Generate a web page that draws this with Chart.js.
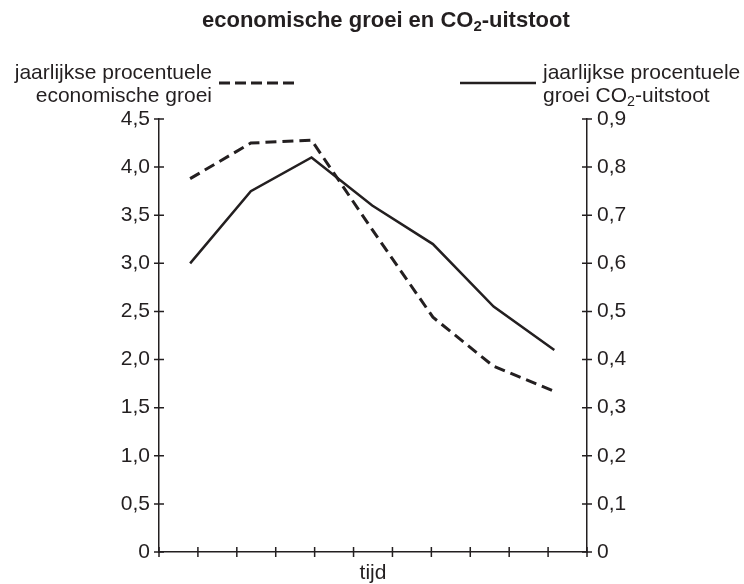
<!DOCTYPE html>
<html>
<head>
<meta charset="utf-8">
<script src="https://cdn.jsdelivr.net/npm/chart.js@4/dist/chart.umd.min.js"></script>
<style>
  html, body { margin: 0; padding: 0; background: #ffffff; }
  #wrap { position: relative; width: 744px; height: 584px; font-family: "Liberation Sans", Arial, sans-serif; color: #231f20; }
  #wrap canvas { position: absolute; left: 0; top: 0; }
  .title { position: absolute; left: 202px; top: 6px; white-space: nowrap; font-weight: bold; font-size: 22px; line-height: 28px; }
  .legtext { position: absolute; font-size: 21px; line-height: 23px; white-space: nowrap; }
  .sub { font-size: 0.68em; position: relative; top: 0.3em; line-height: 0; }
  .swatch { position: absolute; }
</style>
</head>
<body>
<div id="wrap">
  <canvas id="c" width="744" height="584"></canvas>
  <div class="title">economische groei en CO<span class="sub">2</span>-uitstoot</div>
  <div class="legtext" style="right:532px; top:60px; text-align:right;">jaarlijkse procentuele<br>economische groei</div>
  <svg class="swatch" style="left:219px; top:78px;" width="76" height="10"><line x1="0" y1="5" x2="76" y2="5" stroke="#231f20" stroke-width="3" stroke-dasharray="11,5"/></svg>
  <svg class="swatch" style="left:460px; top:78px;" width="76" height="10"><line x1="0" y1="5" x2="76" y2="5" stroke="#231f20" stroke-width="2.5"/></svg>
  <div class="legtext" style="left:543px; top:60px; text-align:left;">jaarlijkse procentuele<br>groei CO<span class="sub">2</span>-uitstoot</div>
</div>
<script>
// ---- data ----
const timePositions = [0.8, 2.36, 3.92, 5.48, 7.04, 8.6, 10.16];   // position along the time axis (tick units)
const economicGrowth = [3.88, 4.25, 4.28, 3.35, 2.44, 1.93, 1.67];  // left axis, %
const co2Growth = [0.60, 0.75, 0.82, 0.72, 0.64, 0.51, 0.42];       // right axis, %
const timeTickRange = [0, 11];       // 12 unlabeled tick marks on the time axis
const leftAxisRange = [0, 4.5, 0.5];
const rightAxisRange = [0, 0.9, 0.1];
const xAxisTitle = 'tijd';

const INK = '#231f20';
const FONT = '"Liberation Sans", Arial, sans-serif';

function fmt(v) {
  if (Math.abs(v) < 1e-9) return '0';
  return v.toFixed(1).replace('.', ',');
}

const crossTicks = {
  id: 'crossTicks',
  afterDatasetsDraw(chart) {
    const {ctx, chartArea, scales} = chart;
    const L = 5;
    ctx.save();
    ctx.strokeStyle = INK;
    ctx.lineWidth = 1.5;
    ctx.beginPath();
    scales.y.ticks.forEach(t => {
      const py = scales.y.getPixelForValue(t.value);
      ctx.moveTo(chartArea.left - L, py); ctx.lineTo(chartArea.left + L, py);
    });
    scales.y1.ticks.forEach(t => {
      const py = scales.y1.getPixelForValue(t.value);
      ctx.moveTo(chartArea.right - L, py); ctx.lineTo(chartArea.right + L, py);
    });
    scales.x.ticks.forEach(t => {
      const px = scales.x.getPixelForValue(t.value);
      ctx.moveTo(px, chartArea.bottom - L); ctx.lineTo(px, chartArea.bottom + L);
    });
    ctx.stroke();
    ctx.restore();
  }
};

new Chart(document.getElementById('c'), {
  type: 'line',
  data: {
    datasets: [
      {
        label: 'jaarlijkse procentuele economische groei',
        data: timePositions.map((x, i) => ({x, y: economicGrowth[i]})),
        yAxisID: 'y',
        borderColor: INK,
        borderWidth: 3,
        borderDash: [11, 6],
        pointRadius: 0,
        tension: 0,
        fill: false
      },
      {
        label: 'jaarlijkse procentuele groei CO2-uitstoot',
        data: timePositions.map((x, i) => ({x, y: co2Growth[i]})),
        yAxisID: 'y1',
        borderColor: INK,
        borderWidth: 2.5,
        pointRadius: 0,
        tension: 0,
        fill: false
      }
    ]
  },
  options: {
    responsive: false,
    animation: false,
    devicePixelRatio: 1,
    layout: { padding: { top: 119, left: 0, right: 0, bottom: 0 } },
    plugins: { legend: { display: false }, tooltip: { enabled: false }, title: { display: false } },
    scales: {
      x: {
        type: 'linear',
        min: timeTickRange[0], max: timeTickRange[1],
        grid: { display: false, drawTicks: false },
        border: { display: true, color: INK, width: 1.5 },
        ticks: { display: false, stepSize: 1 },
        title: { display: true, text: xAxisTitle, color: INK, font: { family: FONT, size: 21, lineHeight: 1 }, padding: 0 },
        afterFit(s) { s.height = 32; }
      },
      y: {
        position: 'left',
        min: leftAxisRange[0], max: leftAxisRange[1],
        grid: { display: false, drawTicks: false },
        border: { display: true, color: INK, width: 1.5 },
        ticks: { stepSize: leftAxisRange[2], padding: 9, color: INK, font: { family: FONT, size: 21 }, callback: v => fmt(v) },
        afterFit(s) { s.width = 159; }
      },
      y1: {
        position: 'right',
        min: rightAxisRange[0], max: rightAxisRange[1],
        grid: { display: false, drawTicks: false },
        border: { display: true, color: INK, width: 1.5 },
        ticks: { stepSize: rightAxisRange[2], padding: 10, color: INK, font: { family: FONT, size: 21 }, callback: v => fmt(v) },
        afterFit(s) { s.width = 157; }
      }
    }
  },
  plugins: [crossTicks]
});
</script>
</body>
</html>
